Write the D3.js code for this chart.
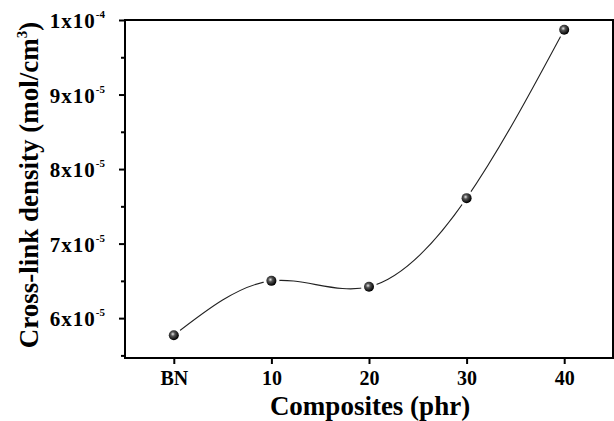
<!DOCTYPE html>
<html>
<head>
<meta charset="utf-8">
<script src="https://cdn.jsdelivr.net/npm/d3@7"></script>
<style>
  body { margin: 0; background: #fff; }
  svg { display: block; font-family: "Liberation Serif", "Times New Roman", serif; font-weight: bold; }
</style>
</head>
<body>
<div id="chart"></div>
<script>
// values
const categories = ["BN", "10", "20", "30", "40"];
const density = [5.77e-5, 6.50e-5, 6.42e-5, 7.61e-5, 9.87e-5];
const yTicks = [6e-5, 7e-5, 8e-5, 9e-5, 1e-4];
const yTickLabels = [["6x10", "-5"], ["7x10", "-5"], ["8x10", "-5"], ["9x10", "-5"], ["1x10", "-4"]];
const yMinorTicks = [5.5e-5, 6.5e-5, 7.5e-5, 8.5e-5, 9.5e-5];

const width = 614, height = 421;
const margin = { top: 20, right: 1, bottom: 63, left: 125 };

const svg = d3.select("#chart").append("svg").attr("width", width).attr("height", height);

const x = d3.scaleLinear().domain([-0.5, 4.5]).range([margin.left, width - margin.right]);
const y = d3.scaleLinear().domain([5.465e-5, 1e-4]).range([height - margin.bottom, margin.top]);

const defs = svg.append("defs");
const grad = defs.append("radialGradient").attr("id", "ball").attr("cx", "40%").attr("cy", "38%").attr("r", "60%");
grad.append("stop").attr("offset", "0%").attr("stop-color", "#e8e8e8");
grad.append("stop").attr("offset", "35%").attr("stop-color", "#555");
grad.append("stop").attr("offset", "100%").attr("stop-color", "#000");

// frame
svg.append("rect")
  .attr("x", margin.left).attr("y", margin.top)
  .attr("width", width - margin.right - margin.left)
  .attr("height", height - margin.bottom - margin.top)
  .attr("fill", "none").attr("stroke", "#000").attr("stroke-width", 2);

// x axis
const xAxis = svg.append("g").attr("transform", `translate(0,${height - margin.bottom})`)
  .call(d3.axisBottom(x).tickValues(d3.range(categories.length)).tickFormat(i => categories[i]).tickSize(6).tickPadding(7));
xAxis.select(".domain").remove();
xAxis.selectAll(".tick line").attr("stroke-width", 2);
xAxis.selectAll(".tick text").attr("font-size", 20).attr("font-family", "Liberation Serif").attr("font-weight", "bold").attr("fill", "#000");

// y axis
const yAxis = svg.append("g").attr("transform", `translate(${margin.left},0)`)
  .call(d3.axisLeft(y).tickValues(yTicks).tickFormat("").tickSize(6));
yAxis.select(".domain").remove();
yAxis.selectAll(".tick line").attr("stroke-width", 2);
svg.append("g").attr("transform", `translate(${margin.left},0)`)
  .call(d3.axisLeft(y).tickValues(yMinorTicks).tickFormat("").tickSize(4))
  .call(g => g.select(".domain").remove())
  .selectAll(".tick line").attr("stroke-width", 2);

const yLab = svg.append("g").selectAll("text").data(yTicks).join("text")
  .attr("x", margin.left - 20).attr("y", d => y(d) + 8)
  .attr("text-anchor", "end").attr("font-size", 21);
yLab.append("tspan").style("letter-spacing", "1px").text((d, i) => yTickLabels[i][0]);
yLab.append("tspan").attr("dy", -10).attr("font-size", 11).text((d, i) => yTickLabels[i][1]);

// axis titles
svg.append("text").attr("x", 370).attr("y", 415)
  .attr("text-anchor", "middle").attr("font-size", 27).text("Composites (phr)");

const yt = svg.append("text").attr("transform", "translate(38,185) rotate(-90)")
  .attr("text-anchor", "middle").attr("font-size", 27);
yt.append("tspan").text("Cross-link density (mol/cm");
yt.append("tspan").attr("dy", -11).attr("font-size", 15).text("3");
yt.append("tspan").attr("dy", 11).text(")");

// spline
const line = d3.line().x((d, i) => x(i)).y(d => y(d)).curve(d3.curveNatural);
svg.append("path").datum(density).attr("d", line)
  .attr("fill", "none").attr("stroke", "#222").attr("stroke-width", 1.1);

// gaps around points then markers
svg.append("g").selectAll("circle").data(density).join("circle")
  .attr("cx", (d, i) => x(i)).attr("cy", d => y(d)).attr("r", 8).attr("fill", "#fff");
svg.append("g").selectAll("circle").data(density).join("circle")
  .attr("cx", (d, i) => x(i)).attr("cy", d => y(d)).attr("r", 5).attr("fill", "url(#ball)");
</script>
</body>
</html>
